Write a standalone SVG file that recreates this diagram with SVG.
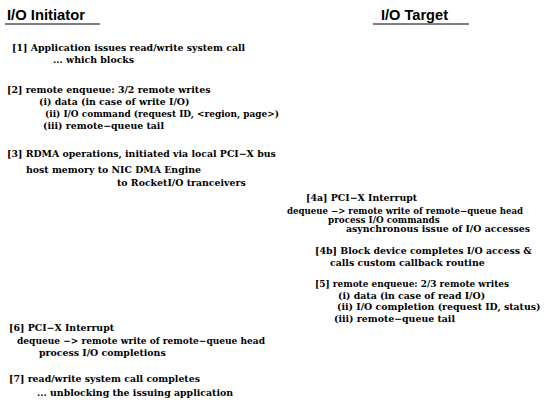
<svg xmlns="http://www.w3.org/2000/svg" width="549" height="403" viewBox="0 0 549 403">
<style>
.h{font-family:"Liberation Sans",Arial,sans-serif;font-weight:bold;font-size:14.5px;fill:#000}
.t{font-family:"DejaVu Serif","Liberation Serif",serif;font-weight:bold;font-size:9.4px;fill:#000}
.s{font-size:8.8px}
.u{stroke:#000;stroke-width:1.2}
</style>
<rect width="549" height="403" fill="#fff"/>
<g id="initiator-title"><text class="h" x="7" y="20" textLength="78" lengthAdjust="spacingAndGlyphs">I/O Initiator</text><line class="u" x1="5" y1="24" x2="100" y2="24"/></g>
<g id="target-title"><text class="h" x="381" y="20" textLength="67" lengthAdjust="spacingAndGlyphs">I/O Target</text><line class="u" x1="373" y1="24" x2="469" y2="24"/></g>
<g id="step1">
<text class="t" x="12" y="51">[1] Application issues read/write system call</text>
<text class="t" x="53" y="63">... which blocks</text>
</g>
<g id="step2">
<text class="t" x="7" y="93">[2] remote enqueue: 3/2 remote writes</text>
<text class="t" x="39" y="105">(i) data (in case of write I/O)</text>
<text class="t" x="45" y="117" textLength="234" lengthAdjust="spacingAndGlyphs">(ii) I/O command (request ID, &lt;region, page&gt;)</text>
<text class="t" x="43" y="129">(iii) remote−queue tail</text>
</g>
<g id="step3">
<text class="t" x="7" y="157">[3] RDMA operations, initiated via local PCI−X bus</text>
<text class="t" x="26" y="173">host memory to NIC DMA Engine</text>
<text class="t" x="117" y="186">to RocketI/O tranceivers</text>
</g>
<g id="step4a">
<text class="t" x="306" y="201">[4a] PCI−X Interrupt</text>
<text class="t s" x="287" y="214" textLength="236" lengthAdjust="spacingAndGlyphs">dequeue −&gt; remote write of remote−queue head</text>
<text class="t s" x="328" y="222.5">process I/O commands</text>
<text class="t" x="346" y="232">asynchronous issue of I/O accesses</text>
</g>
<g id="step4b">
<text class="t" x="315" y="254">[4b] Block device completes I/O access &amp;</text>
<text class="t" x="330" y="266">calls custom callback routine</text>
</g>
<g id="step5">
<text class="t" x="315" y="287" textLength="194" lengthAdjust="spacingAndGlyphs">[5] remote enqueue: 2/3 remote writes</text>
<text class="t" x="338" y="299">(i) data (in case of read I/O)</text>
<text class="t" x="337" y="310">(ii) I/O completion (request ID, status)</text>
<text class="t" x="334" y="322">(iii) remote−queue tail</text>
</g>
<g id="step6">
<text class="t" x="9" y="331">[6] PCI−X Interrupt</text>
<text class="t" x="17" y="344" textLength="248" lengthAdjust="spacingAndGlyphs">dequeue −&gt; remote write of remote−queue head</text>
<text class="t" x="39" y="356">process I/O completions</text>
</g>
<g id="step7">
<text class="t" x="9" y="382">[7] read/write system call completes</text>
<text class="t" x="37" y="396">... unblocking the issuing application</text>
</g>
</svg>
